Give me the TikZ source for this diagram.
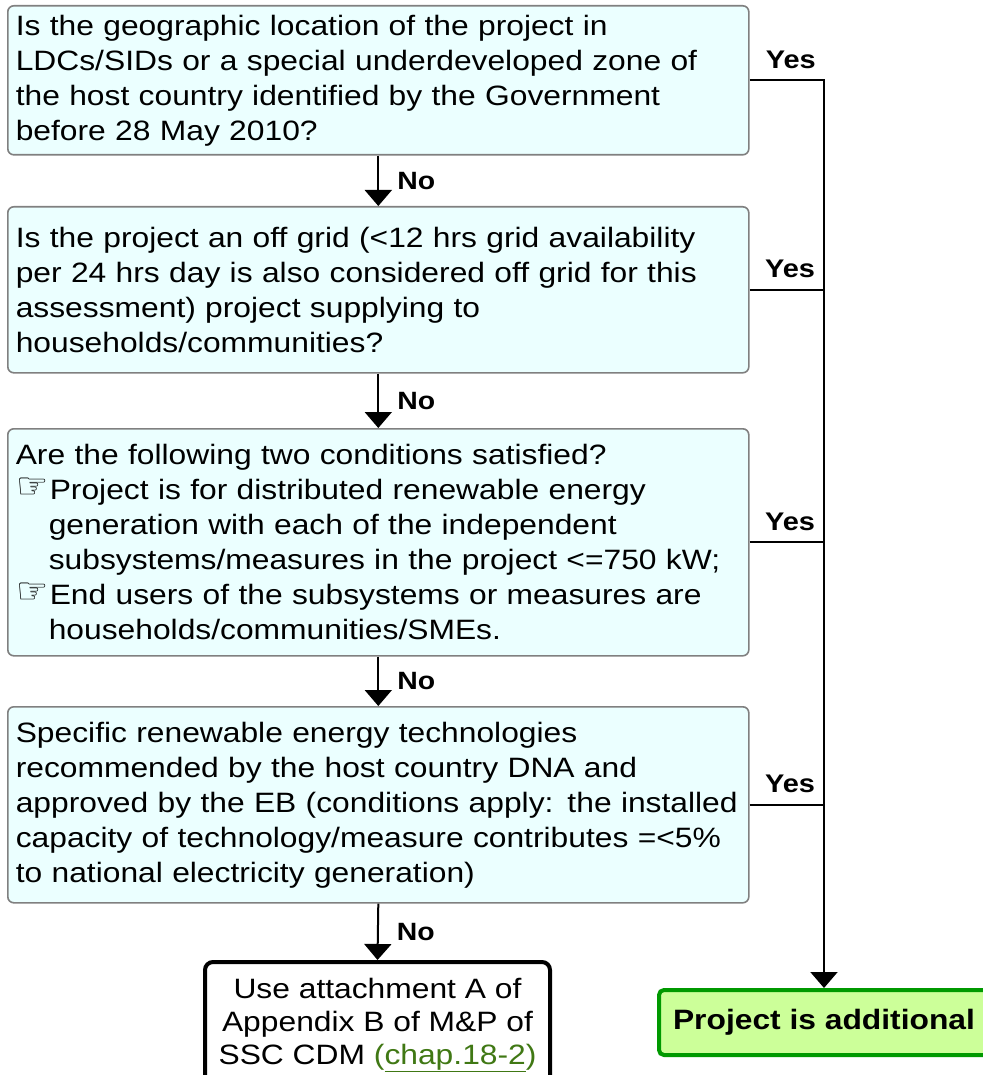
\documentclass[tikz,border=0pt]{standalone}
\usepackage{fontspec}
\setmainfont{Liberation Sans}[FakeStretch=1.135]
\newfontfamily\handfont{DejaVu Sans}
\usetikzlibrary{arrows.meta,calc}
\definecolor{qfill}{RGB}{235,255,255}
\definecolor{qborder}{RGB}{128,128,128}
\definecolor{addfill}{RGB}{204,255,153}
\definecolor{addborder}{RGB}{0,153,0}
\definecolor{linkgreen}{RGB}{64,120,20}
\newcommand{\hand}{\makebox[34pt][l]{\hspace*{1pt}\raisebox{1pt}{\handfont\fontsize{36}{35}\selectfont ☞}}}
\newcommand{\hangin}{\hspace*{33pt}}
\begin{document}
\begin{tikzpicture}[x=1pt,y=-1pt,
  qbox/.style={draw=qborder,line width=1.6pt,fill=qfill,rounded corners=6pt,
    anchor=north west,minimum width=741pt,text width=725pt,inner xsep=8pt,
    align=left,font=\fontsize{28}{35}\selectfont},
  usebox/.style={draw=black,line width=4pt,fill=white,rounded corners=8pt,
    anchor=north,minimum width=345pt,inner ysep=16pt,align=center,
    font=\fontsize{28}{33}\selectfont},
  addbox/.style={draw=addborder,line width=4pt,fill=addfill,rounded corners=5pt,
    minimum width=330pt,minimum height=65pt,font=\fontsize{28}{33}\selectfont\bfseries},
  arr/.style={line width=2pt,-{Triangle[width=27pt,length=16pt]}},
  conn/.style={line width=2pt},
  nolabel/.style={anchor=west,xshift=18pt,inner sep=0pt,font=\fontsize{25}{30}\selectfont\bfseries},
  yeslabel/.style={anchor=south east,inner sep=0pt,xshift=-8pt,yshift=11pt,font=\fontsize{25.5}{30}\selectfont\bfseries}
]
\useasboundingbox (0,0) rectangle (982,1075);

\node[qbox,minimum height=149pt] (q1) at (7,5) {Is the geographic location of the project in\\
LDCs/SIDs or a special underdeveloped zone of\\
the host country identified by the Government\\
before 28 May 2010?};

\node[qbox,minimum height=166pt] (q2) at (7,206) {Is the project an off grid (<12 hrs grid availability\\
per 24 hrs day is also considered off grid for this\\
assessment) project supplying to\\
households/communities?};

\node[qbox,minimum height=227pt] (q3) at (7,428) {Are the following two conditions satisfied?\\
\hand Project is for distributed renewable energy\\
\hangin generation with each of the independent\\
\hangin subsystems/measures in the project <=750 kW;\\
\hand End users of the subsystems or measures are\\
\hangin households/communities/SMEs.};

\node[qbox,minimum height=196pt] (q4) at (7,706) {Specific renewable energy technologies\\
recommended by the host country DNA and\\
approved by the EB (conditions apply: the installed\\
capacity of technology/measure contributes =<5\%\\
to national electricity generation)};

\node[usebox] (use) at (377.5,960) {Use attachment A of\\
Appendix B of M\&P of\\
SSC CDM {\color{linkgreen}(\underline{chap.18-2})}};

\node[addbox] (add) at (824,1022.5) {Project is additional};

% No branches
\draw[arr] (q1.south) -- node[nolabel] {No} (q2.north);
\draw[arr] (q2.south) -- node[nolabel] {No} (q3.north);
\draw[arr] (q3.south) -- node[nolabel] {No} (q4.north);
\draw[arr] (q4.south) -- node[nolabel] {No} (use.north);

% Yes branches
\draw[arr] (q1.east) -| (add.north);
\node[yeslabel] at (q1.east -| add.north) {Yes};
\draw[conn] (q2.east) -- (q2.east -| add.north) node[yeslabel] {Yes};
\draw[conn] (q3.east) -- (q3.east -| add.north) node[yeslabel] {Yes};
\draw[conn] (q4.east) -- (q4.east -| add.north) node[yeslabel] {Yes};
\end{tikzpicture}
\end{document}
